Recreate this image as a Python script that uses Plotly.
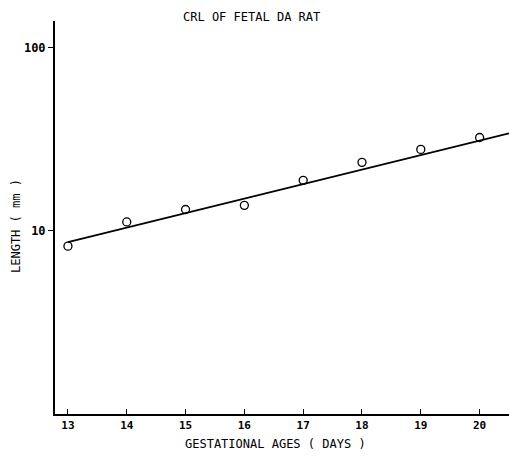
import plotly.graph_objects as go

# Data
days = [13, 14, 15, 16, 17, 18, 19, 20]
crl_mm = [8.26, 11.2, 13.1, 13.8, 18.9, 23.7, 27.9, 32.4]
fit_days = [13, 20.5]
fit_mm = [8.7, 34.1]

title_text = "CRL OF FETAL DA RAT"
x_title = "GESTATIONAL AGES ( DAYS )"
y_title = "LENGTH ( mm )"
x_ticks = [13, 14, 15, 16, 17, 18, 19, 20]
y_ticks = [10, 100]

W, H = 509, 456
L, R, T, B = 55, 0, 21, 42
pw, ph = W - L - R, H - T - B

def px_x(px):
    return (px - L) / pw

def px_y(py):
    return (H - B - py) / ph

FONT = "DejaVu Sans Mono"

fig = go.Figure()
fig.add_trace(go.Scatter(
    x=fit_days, y=fit_mm, mode="lines",
    line=dict(color="black", width=1.8), showlegend=False,
))
fig.add_trace(go.Scatter(
    x=days, y=crl_mm, mode="markers",
    marker=dict(symbol="circle-open", size=8, color="black", line=dict(width=1.3)),
    showlegend=False,
))

fig.update_layout(
    width=W, height=H,
    margin=dict(l=L, r=R, t=T, b=B),
    paper_bgcolor="white", plot_bgcolor="white",
    font=dict(family=FONT, color="black", size=11),
    xaxis=dict(
        range=[12.78, 20.5], tickvals=x_ticks, ticktext=[str(v) for v in x_ticks],
        ticks="inside", ticklen=5, tickwidth=1.2, tickcolor="black",
        showline=True, linecolor="black", linewidth=1.6,
        showgrid=False, zeroline=False,
        tickfont=dict(family=FONT, size=11, weight="bold"),
    ),
    yaxis=dict(
        type="log", range=[0, 2.147], tickvals=y_ticks, ticktext=[str(v) for v in y_ticks],
        ticks="outside", ticklen=5, tickwidth=1.2, tickcolor="black",
        showline=True, linecolor="black", linewidth=2,
        showgrid=False, zeroline=False,
        tickfont=dict(family=FONT, size=12, weight="bold"),
    ),
    annotations=[
        dict(text=title_text, xref="paper", yref="paper", x=px_x(251.5), y=px_y(17),
             showarrow=False, font=dict(family=FONT, size=12), xanchor="center", yanchor="middle"),
        dict(text=x_title, xref="paper", yref="paper", x=px_x(275.5), y=px_y(444),
             showarrow=False, font=dict(family=FONT, size=12), xanchor="center", yanchor="middle"),
        dict(text=y_title, xref="paper", yref="paper", x=px_x(16), y=px_y(226),
             showarrow=False, font=dict(family=FONT, size=12), textangle=-90,
             xanchor="center", yanchor="middle"),
    ],
)

fig.write_html(
    "out.html",
    config={"displayModeBar": False},
    post_script="document.body.style.margin='0';document.body.style.overflow='hidden';",
)
